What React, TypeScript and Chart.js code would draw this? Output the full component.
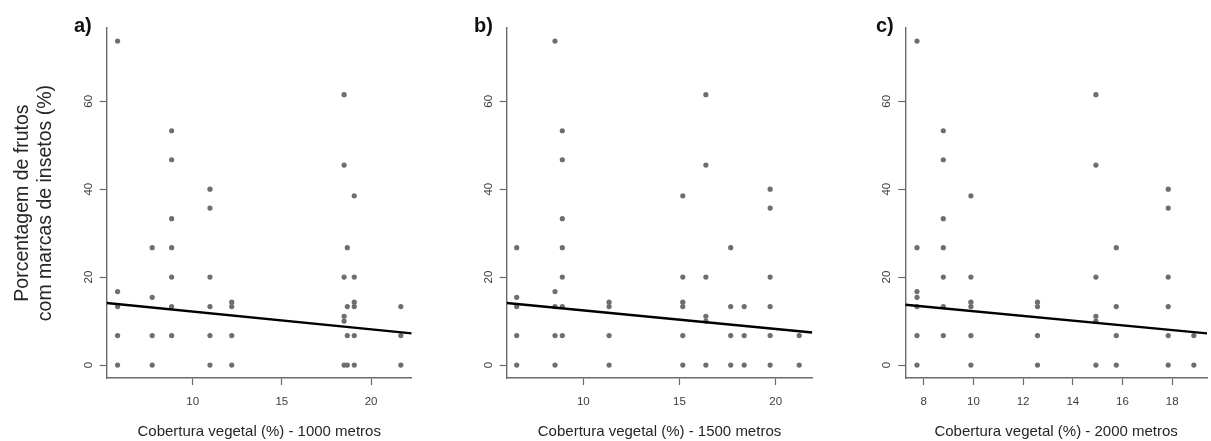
import React, { useEffect, useRef } from "react";
import { Chart, registerables } from "chart.js";

Chart.register(...registerables);

const FONT = "'Liberation Sans', Arial, Helvetica, sans-serif";

// shared y axis
const yTicks = [0, 20, 40, 60];
const yMin = -2.95;
const yMax = 76.65;
const yTitleLines = ["Porcentagem de frutos", "com marcas de insetos (%)"];

// Panel a) 1000 m
const coverA = [5.79, 7.73, 8.82, 10.97, 12.19, 18.49, 18.67, 19.06, 21.67];
const pctA = [
  [73.7, 16.7, 13.3, 6.7, 0],
  [26.7, 15.4, 6.7, 0],
  [53.3, 46.7, 33.3, 26.7, 20, 13.3, 6.7],
  [40, 35.7, 20, 13.3, 6.7, 0],
  [14.3, 13.3, 6.7, 0],
  [61.5, 45.5, 20, 11.1, 10, 0],
  [26.7, 13.3, 6.7, 0],
  [38.5, 20, 14.3, 13.3, 6.7, 0],
  [13.3, 6.7, 0],
];
const xTicksA = [10, 15, 20];
const xRangeA = [5.18, 22.28];
const regA = { intercept: 16.19, slope: -0.4035 };
const xTitleA = "Cobertura vegetal (%) - 1000 metros";

// Panel b) 1500 m
const coverB = [6.54, 8.53, 8.91, 11.34, 15.17, 16.37, 17.66, 18.36, 19.71, 21.22];
const pctB = [
  [26.7, 15.4, 13.3, 6.7, 0],
  [73.7, 16.7, 13.3, 6.7, 0],
  [53.3, 46.7, 33.3, 26.7, 20, 13.3, 6.7],
  [14.3, 13.3, 6.7, 0],
  [38.5, 20, 14.3, 13.3, 6.7, 0],
  [61.5, 45.5, 20, 11.1, 10, 0],
  [26.7, 13.3, 6.7, 0],
  [13.3, 6.7, 0],
  [40, 35.7, 20, 13.3, 6.7, 0],
  [6.7, 0],
];
const xTicksB = [10, 15, 20];
const xRangeB = [6.02, 21.9];
const regB = { intercept: 16.64, slope: -0.4219 };
const xTitleB = "Cobertura vegetal (%) - 1500 metros";

// Panel c) 2000 m
const coverC = [7.73, 8.79, 9.9, 12.58, 14.93, 15.75, 17.84, 18.87];
const pctC = [
  [73.7, 26.7, 16.7, 15.4, 13.3, 6.7, 0],
  [53.3, 46.7, 33.3, 26.7, 20, 13.3, 6.7],
  [38.5, 20, 14.3, 13.3, 6.7, 0],
  [14.3, 13.3, 6.7, 0],
  [61.5, 45.5, 20, 11.1, 10, 0],
  [26.7, 13.3, 6.7, 0],
  [40, 35.7, 20, 13.3, 6.7, 0],
  [6.7, 0],
];
const xTicksC = [8, 10, 12, 14, 16, 18];
const xRangeC = [7.26, 19.4];
const regC = { intercept: 17.59, slope: -0.5354 };
const xTitleC = "Cobertura vegetal (%) - 2000 metros";

const AXIS = "#6a6a6a";
const TICKTXT = "#3c3c3c";
const POINT = "#6e6e6e";

type PanelProps = {
  left: number;
  width: number;
  yAxisWidth: number;
  padRight: number;
  cover: number[];
  pct: number[][];
  xRange: number[];
  xTicks: number[];
  reg: { intercept: number; slope: number };
  xTitle: string;
  label: string;
  labelX: number;
  showYTitle: boolean;
};

function Panel(p: PanelProps) {
  const ref = useRef<HTMLCanvasElement>(null);
  useEffect(() => {
    if (!ref.current) return;
    const pts: { x: number; y: number }[] = [];
    p.cover.forEach((x, i) => p.pct[i].forEach((y) => pts.push({ x, y })));
    const [x0, x1] = p.xRange;
    const labelPlugin = {
      id: "panelLabel",
      afterDraw(chart: any) {
        const ctx = chart.ctx;
        ctx.save();
        ctx.font = `bold 20px ${FONT}`;
        ctx.fillStyle = "#111";
        ctx.textAlign = "left";
        ctx.textBaseline = "alphabetic";
        ctx.fillText(p.label, p.labelX, 32);
        ctx.restore();
      },
    };
    const chart = new Chart(ref.current, {
      type: "scatter",
      data: {
        datasets: [
          {
            type: "line",
            data: [
              { x: x0, y: p.reg.intercept + p.reg.slope * x0 },
              { x: x1, y: p.reg.intercept + p.reg.slope * x1 },
            ],
            borderColor: "#000",
            borderWidth: 2.4,
            pointRadius: 0,
            fill: false,
            order: 1,
          } as any,
          {
            type: "scatter",
            data: pts,
            pointRadius: 2.6,
            pointBackgroundColor: POINT,
            pointBorderWidth: 0,
            order: 2,
          } as any,
        ],
      },
      options: {
        responsive: false,
        animation: false,
        events: [],
        layout: { padding: { top: 28.1, right: p.padRight, bottom: 0, left: 0 } },
        plugins: { legend: { display: false }, tooltip: { enabled: false }, title: { display: false } },
        scales: {
          x: {
            type: "linear",
            min: x0,
            max: x1,
            afterBuildTicks: (s: any) => {
              s.ticks = p.xTicks.map((v) => ({ value: v }));
            },
            afterFit: (s: any) => {
              s.height = 63;
            },
            grid: { drawOnChartArea: false, drawTicks: true, tickLength: 7, tickColor: AXIS, tickWidth: 1.2 },
            border: { display: true, color: AXIS, width: 1.4 },
            ticks: { padding: 10, color: TICKTXT, font: { family: FONT, size: 11.5 }, maxRotation: 0, minRotation: 0 },
            title: {
              display: true,
              text: p.xTitle,
              color: "#262626",
              font: { family: FONT, size: 15, lineHeight: 1.2 },
              padding: { top: 0, bottom: 0.3 },
            },
          },
          y: {
            type: "linear",
            min: yMin,
            max: yMax,
            afterBuildTicks: (s: any) => {
              s.ticks = yTicks.map((v) => ({ value: v }));
            },
            afterFit: (s: any) => {
              s.width = p.yAxisWidth;
            },
            grid: { drawOnChartArea: false, drawTicks: true, tickLength: 7, tickColor: AXIS, tickWidth: 1.2 },
            border: { display: true, color: AXIS, width: 1.4 },
            ticks: {
              padding: 4.6,
              color: TICKTXT,
              font: { family: FONT, size: 11.5 },
              minRotation: 90,
              maxRotation: 90,
              crossAlign: "center",
            },
            title: {
              display: p.showYTitle,
              text: yTitleLines,
              color: "#262626",
              font: { family: FONT, size: 19.5, lineHeight: 1.18 },
              padding: { top: 11, bottom: 0 },
            },
          },
        },
      } as any,
      plugins: [labelPlugin],
    });
    return () => chart.destroy();
  }, []);
  return (
    <div style={{ position: "absolute", left: p.left, top: 0, width: p.width, height: 441 }}>
      <canvas ref={ref} width={p.width} height={441} style={{ width: p.width, height: 441, display: "block" }} />
    </div>
  );
}

export default function App() {
  return (
    <div style={{ position: "absolute", left: 0, top: 0, width: 1211, height: 441, background: "#fff", overflow: "hidden" }}>
      <Panel left={0} width={420} yAxisWidth={106.7} padRight={8.3} cover={coverA} pct={pctA} xRange={xRangeA}
        xTicks={xTicksA} reg={regA} xTitle={xTitleA} label="a)" labelX={74} showYTitle={true} />
      <Panel left={420} width={400} yAxisWidth={86.7} padRight={7.7} cover={coverB} pct={pctB} xRange={xRangeB}
        xTicks={xTicksB} reg={regB} xTitle={xTitleB} label="b)" labelX={54} showYTitle={false} />
      <Panel left={820} width={391} yAxisWidth={85.3} padRight={0} cover={coverC} pct={pctC} xRange={xRangeC}
        xTicks={xTicksC} reg={regC} xTitle={xTitleC} label="c)" labelX={56} showYTitle={false} />
    </div>
  );
}
